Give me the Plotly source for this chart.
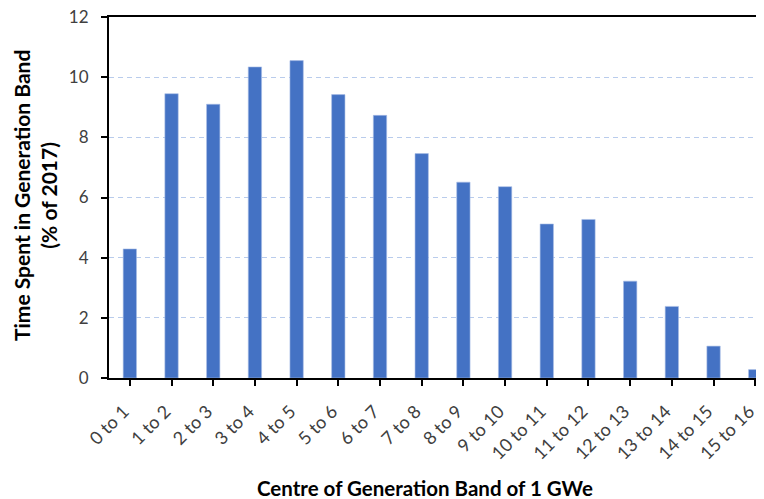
import plotly.graph_objects as go

categories = ["0 to 1", "1 to 2", "2 to 3", "3 to 4", "4 to 5", "5 to 6", "6 to 7", "7 to 8",
              "8 to 9", "9 to 10", "10 to 11", "11 to 12", "12 to 13", "13 to 14", "14 to 15", "15 to 16"]
values = [4.29, 9.45, 9.10, 10.34, 10.55, 9.42, 8.73, 7.46,
          6.51, 6.36, 5.12, 5.27, 3.22, 2.38, 1.06, 0.28]
y_ticks = [0, 2, 4, 6, 8, 10, 12]
x_title = "Centre of Generation Band of 1 GWe"
y_title = "Time Spent in Generation Band<br>(% of 2017)"

font_family = "Lato, 'Open Sans', sans-serif"

# page has an 8px body margin, so the figure is 8px smaller than the window
W, H = 756, 491
L, T, R, B = 101, 9, 0, 121
pw, ph = W - L - R, H - T - B

fig = go.Figure()
fig.add_trace(go.Bar(
    x=list(range(len(categories))), y=values,
    marker=dict(color="#4472C4", line=dict(color="#A9BEE6", width=0.6)),
    width=0.32,
))

fig.update_layout(
    width=W, height=H,
    margin=dict(l=L, r=R, t=T, b=B, autoexpand=False),
    plot_bgcolor="white", paper_bgcolor="white",
    showlegend=False,
    font=dict(family=font_family, color="#404040"),
    xaxis=dict(
        tickmode="array", tickvals=list(range(len(categories))), ticktext=categories,
        range=[-0.5, 15.21],
        tickangle=-45, tickfont=dict(size=18, color="#404040"),
        showline=True, linecolor="black", linewidth=2, mirror=True,
        ticks="outside", ticklen=6, tickwidth=2, tickcolor="black",
        tickson="boundaries", ticklabelstandoff=8, ticklabelshift=-6,
        ticklabeloverflow="allow",
        showgrid=False, zeroline=False, automargin=False,
    ),
    yaxis=dict(
        range=[0, 12], tickvals=y_ticks,
        tickfont=dict(size=17, color="#404040"),
        showline=True, linecolor="black", linewidth=2,
        ticks="outside", ticklen=6, tickwidth=2, tickcolor="black",
        ticklabelstandoff=9, ticklabeloverflow="allow",
        showgrid=True, gridcolor="#B9CCEC", griddash="5px,4px", gridwidth=1,
        zeroline=False, automargin=False,
    ),
    annotations=[
        dict(text="<b>" + x_title + "</b>", xref="paper", yref="paper",
             x=(417 - L) / pw, y=(H - B - 480) / ph, xanchor="center", yanchor="middle",
             showarrow=False, font=dict(size=20.5, color="black")),
        dict(text="<b>" + y_title + "</b>", xref="paper", yref="paper",
             x=(27 - L) / pw, y=(H - B - 188) / ph, xanchor="center", yanchor="middle",
             textangle=-90, showarrow=False, font=dict(size=21, color="black")),
    ],
)

fig.write_html("out.html")
